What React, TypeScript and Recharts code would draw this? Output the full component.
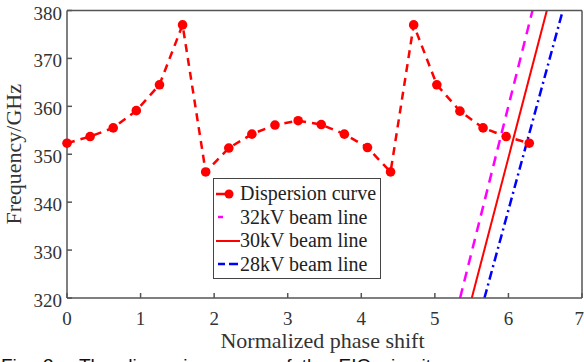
import { LineChart, Line, XAxis, YAxis, Legend } from 'recharts'

const phase = [
  0, 0.314, 0.628, 0.942, 1.257, 1.571, 1.885, 2.199, 2.513, 2.827, 3.142,
  3.456, 3.77, 4.084, 4.398, 4.712, 5.027, 5.341, 5.655, 5.969, 6.283,
]
const frequency = [
  352.3, 353.7, 355.5, 359.1, 364.5, 377.0, 346.3, 351.3, 354.2, 356.1, 357.0,
  356.2, 354.2, 351.4, 346.3, 377.0, 364.5, 359.0, 355.5, 353.7, 352.3,
]
const beamFreq = [320, 380]
const beam32Phase = [5.343, 6.327]
const beam30Phase = [5.502, 6.522]
const beam28Phase = [5.674, 6.739]
const xTicks = [0, 1, 2, 3, 4, 5, 6, 7]
const yTicks = [320, 330, 340, 350, 360, 370, 380]
const seriesNames = ['Dispersion curve', '32kV beam line', '30kV beam line', '28kV beam line']

const dispersion = phase.map((x, i) => ({ x, f: frequency[i] }))
const toBeam = (xs: number[]) => xs.map((x, i) => ({ x, f: beamFreq[i] }))

const serif = '"Liberation Serif", "Times New Roman", serif'
const axisColor = '#555'
const textColor = '#333'

const icons: Record<string, JSX.Element> = {
  'Dispersion curve': (
    <>
      <line x1={1} y1={6} x2={10} y2={6} stroke="#ff0000" strokeWidth={2.5} />
      <circle cx={14} cy={6} r={4.5} fill="#ff0000" />
    </>
  ),
  '32kV beam line': <line x1={3} y1={6} x2={8} y2={6} stroke="#ff00ff" strokeWidth={2.5} />,
  '30kV beam line': <line x1={1} y1={6} x2={25} y2={6} stroke="#ff0000" strokeWidth={2} />,
  '28kV beam line': (
    <line x1={3} y1={6} x2={23} y2={6} stroke="#0000ff" strokeWidth={2.5} strokeDasharray="7 4 9" />
  ),
}

function LegendBox(props: any) {
  const payload = [...(props.payload || [])].sort(
    (a: any, b: any) => seriesNames.indexOf(a.value) - seriesNames.indexOf(b.value)
  )
  return (
    <div
      style={{
        border: '1.5px solid #444',
        background: '#fff',
        width: 166,
        padding: '3px 0 2px',
        fontFamily: serif,
        fontSize: 20,
        color: '#222',
      }}
    >
      {payload.map((entry: any) => (
        <div
          key={entry.value}
          style={{ display: 'flex', alignItems: 'center', height: 23.5, whiteSpace: 'nowrap' }}
        >
          <svg width={25} height={12} style={{ marginLeft: 1 }}>
            {icons[entry.value]}
          </svg>
          <span style={{ fontFamily: serif }}>{entry.value}</span>
        </div>
      ))}
    </div>
  )
}

export default function App() {
  return (
    <div
      style={{
        position: 'absolute',
        left: 0,
        top: 0,
        width: 584,
        height: 362,
        overflow: 'hidden',
        background: '#fff',
      }}
    >
      <LineChart width={584} height={362} margin={{ top: 10.5, right: 2, bottom: 0, left: 0 }}>
        <XAxis
          dataKey="x"
          type="number"
          domain={[0, 7]}
          ticks={xTicks}
          height={64}
          tickSize={-5}
          tickMargin={18.5}
          tick={{ fontFamily: serif, fontSize: 19, fill: textColor }}
          axisLine={{ stroke: axisColor, strokeWidth: 1.5 }}
          tickLine={{ stroke: axisColor, strokeWidth: 1.5 }}
          label={{
            content: (p: any) => (
              <text
                x={p.viewBox.x + p.viewBox.width / 2 - 2}
                y={p.viewBox.y + 50}
                textAnchor="middle"
                fontFamily={serif}
                fontSize={22}
                fill={textColor}
              >
                Normalized phase shift
              </text>
            ),
          }}
        />
        <XAxis
          xAxisId="top"
          orientation="top"
          mirror
          type="number"
          domain={[0, 7]}
          ticks={xTicks}
          tick={false}
          tickSize={5}
          axisLine={{ stroke: axisColor, strokeWidth: 1.5 }}
          tickLine={{ stroke: axisColor, strokeWidth: 1.5 }}
        />
        <YAxis
          dataKey="f"
          type="number"
          domain={[320, 380]}
          ticks={yTicks}
          width={67}
          tickSize={-5}
          tickMargin={10}
          tick={{ fontFamily: serif, fontSize: 19, fill: textColor, dy: 2 }}
          axisLine={{ stroke: axisColor, strokeWidth: 1.5 }}
          tickLine={{ stroke: axisColor, strokeWidth: 1.5 }}
          label={{
            content: (p: any) => {
              const cx = 21
              const cy = p.viewBox.y + p.viewBox.height / 2
              return (
                <text
                  x={cx}
                  y={cy}
                  transform={`rotate(-90 ${cx} ${cy})`}
                  textAnchor="middle"
                  fontFamily={serif}
                  fontSize={22}
                  fill={textColor}
                >
                  Frequency/GHz
                </text>
              )
            },
          }}
        />
        <YAxis
          yAxisId="right"
          orientation="right"
          mirror
          type="number"
          domain={[320, 380]}
          ticks={yTicks}
          tick={false}
          tickSize={5}
          axisLine={{ stroke: axisColor, strokeWidth: 1.5 }}
          tickLine={{ stroke: axisColor, strokeWidth: 1.5 }}
        />
        <Legend
          layout="vertical"
          align="center"
          verticalAlign="middle"
          content={<LegendBox />}
          wrapperStyle={{ left: 213, top: 178, width: 'auto' }}
        />
        <Line
          data={dispersion}
          dataKey="f"
          name="Dispersion curve"
          stroke="#ff0000"
          strokeWidth={2.5}
          strokeDasharray="8 6"
          dot={{ r: 4.8, fill: '#ff0000', stroke: 'none' }}
          activeDot={false}
          isAnimationActive={false}
        />
        <Line
          data={toBeam(beam32Phase)}
          dataKey="f"
          name="32kV beam line"
          stroke="#ff00ff"
          strokeWidth={2.5}
          strokeDasharray="10 7"
          dot={false}
          activeDot={false}
          isAnimationActive={false}
        />
        <Line
          data={toBeam(beam30Phase)}
          dataKey="f"
          name="30kV beam line"
          stroke="#ff0000"
          strokeWidth={2}
          dot={false}
          activeDot={false}
          isAnimationActive={false}
        />
        <Line
          data={toBeam(beam28Phase)}
          dataKey="f"
          name="28kV beam line"
          stroke="#0000ff"
          strokeWidth={2.5}
          strokeDasharray="9 4 2 4"
          dot={false}
          activeDot={false}
          isAnimationActive={false}
        />
      </LineChart>
      <div
        style={{
          position: 'absolute',
          left: 1,
          top: 355,
          fontFamily: '"Liberation Sans", Arial, sans-serif',
          fontSize: 19,
          wordSpacing: 5,
          whiteSpace: 'pre',
          color: '#111',
        }}
      >
        {'Fig. 3.  The dispersion curve of the EIO circuit'}
      </div>
    </div>
  )
}
